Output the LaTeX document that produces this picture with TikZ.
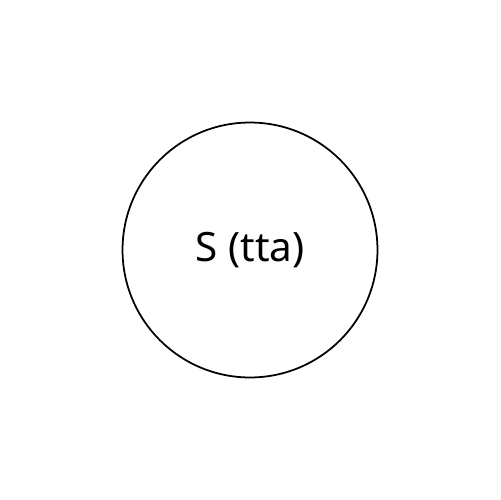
\documentclass[tikz,border=0pt]{standalone}
\usepackage{fontspec}
\setmainfont{Noto Sans}
\begin{document}
\begin{tikzpicture}[x=0.02cm,y=-0.02cm,
  circ/.style={draw=black, line width=1pt, circle, minimum size=5.1cm, inner sep=0pt, font=\fontsize{23}{27}\selectfont}]
\useasboundingbox (0,0) rectangle (500,500);
\node[circ] (s) at (250,250) {S (tta)};
\end{tikzpicture}
\end{document}
